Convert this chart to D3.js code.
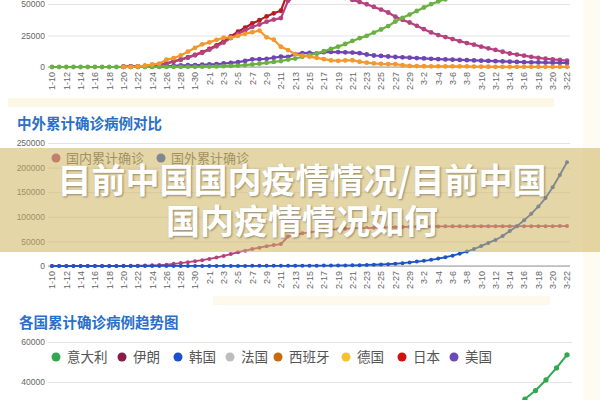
<!DOCTYPE html>
<html>
<head>
<meta charset="utf-8">
<title>目前中国国内疫情情况</title>
<script src="https://d3js.org/d3.v7.min.js"></script>
<style>
  body { margin: 0; background: #fff; }
  svg { display: block; font-family: "Liberation Sans", Arial, sans-serif; }
  .cjk { font-family: "Noto Sans CJK SC", sans-serif; }
  .axis text { fill: #666; font-size: 8.5px; }
  .axis .tick line { stroke: #e3e3e3; }
  .axis .domain { display: none; }
  .xaxis text { fill: #666; font-size: 9px; }
</style>
</head>
<body>
<svg id="chart" width="600" height="400"></svg>
<script>
// dates 1-10 .. 3-22
const dates = ["1-10","1-11","1-12","1-13","1-14","1-15","1-16","1-17","1-18","1-19","1-20","1-21","1-22","1-23","1-24","1-25","1-26","1-27","1-28","1-29","1-30","1-31",
  "2-1","2-2","2-3","2-4","2-5","2-6","2-7","2-8","2-9","2-10","2-11","2-12","2-13","2-14","2-15","2-16","2-17","2-18","2-19","2-20","2-21","2-22","2-23","2-24","2-25","2-26","2-27","2-28","2-29",
  "3-1","3-2","3-3","3-4","3-5","3-6","3-7","3-8","3-9","3-10","3-11","3-12","3-13","3-14","3-15","3-16","3-17","3-18","3-19","3-20","3-21","3-22"];
const dates2 = ["2-2","2-3","2-4","2-5","2-6","2-7","2-8","2-9","2-10","2-11","2-12","2-13","2-14","2-15","2-16","2-17","2-18","2-19","2-20","2-21","2-22","2-23","2-24","2-25","2-26","2-27","2-28","2-29",
  "3-1","3-2","3-3","3-4","3-5","3-6","3-7","3-8","3-9","3-10","3-11","3-12","3-13","3-14","3-15","3-16","3-17","3-18","3-19","3-20","3-21","3-22"];
const N = null;

// top chart
const confirmed = [N,N,N,N,N,N,N,N,N,N,
  291,440,571,830,1287,1975,2744,4515,5974,7711,9692,
  11791,14380,17205,20438,24324,28018,31161,34546,37198,40171,42638,44653,
  59804,63851,66492,68500,70548,72436,74185,74576,75465,76288,76936,77150,77658,78064,78497,78824,79251,79824,
  80026,80151,80270,80409,80552,80651,80695,80735,80754,80778,80793,80813,80824,80844,80860,80881,80894,80928,80967,81008,81054,81093];
const existing = [N,N,N,N,N,N,N,N,N,N,
  270,410,530,770,1200,1870,2590,4330,5730,7390,9310,
  11290,13750,16370,19350,22940,26300,28980,31770,33740,35980,37630,38800,
  52520,55750,56870,57420,57930,58020,57800,56300,54970,53280,51610,49820,47670,45600,43260,39920,37410,35330,
  32650,30000,27430,25350,23780,22170,20530,19020,17720,16140,14830,13530,12090,10730,9900,8970,8060,7260,6570,6010,5550,5120];
const severe = [N,N,N,N,N,N,N,N,N,N,
  35,95,95,177,237,324,461,976,1239,1370,1527,
  1795,2110,2296,2788,3219,3859,4821,6101,6188,6484,7333,8204,
  8030,10204,11053,11272,10644,11741,11977,11864,11633,11477,10968,9915,9126,8752,8346,7952,7664,7365,
  7110,6800,6500,6200,6000,5800,5600,5400,5200,5000,4800,4600,4400,4200,4000,3800,3700,3600,3500,3400,3300,3200];
const cured = [0,0,2,2,7,7,7,12,12,15,
  25,25,28,34,38,49,51,60,103,124,171,
  243,328,475,632,892,1153,1540,2050,2649,3281,3996,4740,
  5911,6723,8096,9419,10844,12552,14376,16155,18264,20659,22888,24734,27323,29745,32495,36117,39002,41625,
  44462,47204,49856,52045,53726,55404,57065,58600,59897,61475,62793,64111,65541,66911,67749,68679,69601,70420,71150,71740,72244,72703];
const suspected = [N,N,N,N,N,N,N,N,N,N,
  54,37,393,1072,1965,2684,5794,6973,9239,12167,15238,
  17988,19544,21558,23214,23260,24702,26359,27657,28942,23589,21675,16067,
  13435,10109,8969,8228,7264,6242,5248,4922,5206,5365,4148,3434,2824,2491,2358,2308,1418,851,
  715,587,520,522,482,502,458,421,349,285,253,147,115,113,134,128,119,105,104,106,118,136];

// middle chart
const domestic = [41,41,41,41,41,41,45,62,121,198,
  291,440,571,830,1287,1975,2744,4515,5974,7711,9692,
  11791,14380,17205,20438,24324,28018,31161,34546,37198,40171,42638,44653,
  59804,63851,66492,68500,70548,72436,74185,74576,75465,76288,76936,77150,77658,78064,78497,78824,79251,79824,
  80026,80151,80270,80409,80552,80651,80695,80735,80754,80778,80793,80813,80824,80844,80860,80881,80894,80928,80967,81008,81054,81093];
const foreign = [0,0,0,1,1,2,3,4,5,7,
  9,12,17,25,40,58,70,85,102,125,150,160,
  180,190,205,220,230,250,280,300,330,390,420,
  450,520,580,670,690,820,930,1080,1200,
  1400,1700,2100,2500,3000,3700,4600,5800,7200,
  8900,10500,12600,15000,17800,21000,25000,29500,34500,40500,47000,53000,61000,71000,81000,93000,106000,121000,138000,160000,185000,211000];

// bottom chart
const italy = [2,2,2,2,2,3,3,3,3,3,3,3,3,3,3,3,3,3,3,
  3,20,79,157,229,323,470,655,889,
  1128,1694,2036,2502,3089,3858,4636,5883,7375,9172,10149,12462,15113,17660,21157,24747,27980,31506,35713,41035,47021,53578];
const countries = ["意大利","伊朗","韩国","法国","西班牙","德国","日本","美国"];
const countryColors = ["#2fa84f","#8a1c48","#1a4fd0","#bdbdbd","#c8680f","#f3c232","#d21010","#6a4bb8"];

const svg = d3.select("#chart");

// faint background bits
svg.append("rect").attr("x", 8).attr("y", 98).attr("width", 546).attr("height", 9).attr("fill", "#fdf8e6");
svg.append("rect").attr("x", 213).attr("y", 296).attr("width", 337).attr("height", 9).attr("fill", "#fdf9ec");
svg.append("rect").attr("x", 583).attr("y", 0).attr("width", 17).attr("height", 400).attr("fill", "#fefbf2");

function drawAxes(g, x, y, yTicks, xTicks, x0, x1, base) {
  g.append("g").attr("class", "axis").attr("transform", `translate(${x0},0)`)
    .call(d3.axisLeft(y).tickValues(yTicks).tickFormat(d3.format("d")).tickSize(-(x1 - x0)).tickPadding(3));
  if (xTicks) {
    g.append("line").attr("x1", x0).attr("x2", x1).attr("y1", base).attr("y2", base)
      .attr("stroke", "#999").attr("stroke-width", 1);
    const xa = g.append("g").attr("class", "xaxis").attr("transform", `translate(0,${base})`)
      .call(d3.axisBottom(x).tickValues(xTicks).tickSize(0));
    xa.select(".domain").remove();
    xa.selectAll("text")
      .attr("transform", "rotate(-90)")
      .attr("x", -5).attr("y", 0).attr("dy", "0.32em")
      .style("text-anchor", "end");
  }
}

function drawSeries(g, x, y, cats, values, color, w, r) {
  const pts = cats.map((c, i) => ({c: c, v: values[i]}));
  const line = d3.line().defined(d => d.v != null).x(d => x(d.c)).y(d => y(d.v));
  g.append("path").datum(pts).attr("d", line).attr("fill", "none")
    .attr("stroke", color).attr("stroke-width", w).attr("stroke-linejoin", "round");
  g.append("g").selectAll("circle").data(pts.filter(d => d.v != null)).join("circle")
    .attr("cx", d => x(d.c)).attr("cy", d => y(d.v)).attr("r", r).attr("fill", color);
}

const evenDates = dates.filter((d, i) => i % 2 === 0);

// ---- top chart ----
const xTop = d3.scalePoint().domain(dates).range([52, 567]);
const yTop = d3.scaleLinear().domain([0, 50000]).range([67, 4]);
const gTop = svg.append("g");
drawAxes(gTop, xTop, yTop, [0, 25000, 50000], evenDates, 48, 570, 67);
drawSeries(gTop, xTop, yTop, dates, confirmed, "#b01e22", 2.2, 2.4);
drawSeries(gTop, xTop, yTop, dates, existing, "#b6417f", 2.2, 2.4);
drawSeries(gTop, xTop, yTop, dates, severe, "#6e45b3", 2.2, 2.4);
drawSeries(gTop, xTop, yTop, dates, cured, "#6ab143", 2.2, 2.4);
drawSeries(gTop, xTop, yTop, dates, suspected, "#f2982e", 2.2, 2.4);

// ---- middle chart ----
svg.append("text").attr("class", "cjk").attr("x", 17).attr("y", 129)
  .attr("font-size", 14.5).attr("font-weight", 700).attr("fill", "#2a6fc9")
  .text("中外累计确诊病例对比");
const xMid = d3.scalePoint().domain(dates).range([52, 567]);
const yMid = d3.scaleLinear().domain([0, 250000]).range([266, 143]);
const gMid = svg.append("g");
drawAxes(gMid, xMid, yMid, [0, 50000, 100000, 150000, 200000, 250000], evenDates, 48, 570, 266);
drawSeries(gMid, xMid, yMid, dates, domestic, "#b4407c", 1.8, 2);
drawSeries(gMid, xMid, yMid, dates, foreign, "#1f53c8", 1.8, 2);

const midLegend = [{name: "国内累计确诊", color: "#b4407c", x: 56}, {name: "国外累计确诊", color: "#1f53c8", x: 161}];
const ml = svg.append("g").selectAll("g").data(midLegend).join("g")
  .attr("transform", d => `translate(${d.x},158)`);
ml.append("circle").attr("r", 4.5).attr("fill", d => d.color);
ml.append("text").attr("class", "cjk").attr("x", 10).attr("dy", "0.36em")
  .attr("font-size", 13).attr("fill", "#666").text(d => d.name);

// ---- bottom chart ----
svg.append("text").attr("class", "cjk").attr("x", 19).attr("y", 328)
  .attr("font-size", 14.5).attr("font-weight", 700).attr("fill", "#2a6fc9")
  .text("各国累计确诊病例趋势图");
const xBot = d3.scalePoint().domain(dates2).range([52, 567]);
const yBot = d3.scaleLinear().domain([40000, 60000]).range([382, 342]);
const gBot = svg.append("g");
drawAxes(gBot, xBot, yBot, [40000, 60000], null, 48, 572, 0);
drawSeries(gBot, xBot, yBot, dates2, italy, countryColors[0], 2, 2.6);

const legendX = [56, 122, 178, 230, 278, 346, 402, 454];
const bl = svg.append("g").selectAll("g").data(countries).join("g")
  .attr("transform", (d, i) => `translate(${legendX[i]},357)`);
bl.append("circle").attr("r", 4.5).attr("fill", (d, i) => countryColors[i]);
bl.append("text").attr("class", "cjk").attr("x", 11).attr("dy", "0.36em")
  .attr("font-size", 13.5).attr("fill", "#555").text(d => d);

// ---- overlay title ----
svg.append("rect").attr("x", 0).attr("y", 148).attr("width", 600).attr("height", 104)
  .attr("fill", "rgb(205,180,95)").attr("fill-opacity", 0.55);
const lines = ["目前中国国内疫情情况/目前中国", "国内疫情情况如何"];
svg.append("g").selectAll("text").data(lines).join("text")
  .attr("class", "cjk")
  .attr("x", 302).attr("y", (d, i) => 193 + i * 41)
  .attr("text-anchor", "middle")
  .attr("font-size", 34).attr("font-weight", 700).attr("fill", "#fff")
  .style("text-shadow", "1px 1px 2px rgba(0,0,0,0.35)")
  .text(d => d);
</script>
</body>
</html>
